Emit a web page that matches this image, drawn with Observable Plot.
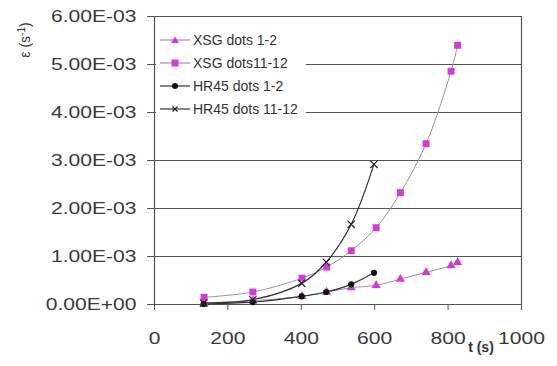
<!DOCTYPE html>
<html><head><meta charset="utf-8">
<script src="https://cdn.jsdelivr.net/npm/d3@7"></script>
<script src="https://cdn.jsdelivr.net/npm/@observablehq/plot@0.6"></script>
<style>
body{margin:0;background:#fff;font-family:"Liberation Sans",Arial,sans-serif;}
#wrap{position:relative;width:557px;height:366px;}
#legend{position:absolute;left:156px;top:28px;width:150px;height:93px;background:#fff;}
.row{position:absolute;left:0;height:16px;display:flex;align-items:center;font-size:14px;color:#333;white-space:nowrap;}
.row svg{margin-right:3px;}
</style>
</head><body>
<div id="wrap"><div id="legend"></div></div>
<script>
// Data (values in s^-1)
const tXSG = [135, 268, 402, 469, 536, 604, 670, 740, 808, 826];
const xsg12 = [0.03e-3, 0.08e-3, 0.17e-3, 0.26e-3, 0.35e-3, 0.40e-3, 0.53e-3, 0.67e-3, 0.81e-3, 0.88e-3];
const xsg1112 = [0.15e-3, 0.26e-3, 0.55e-3, 0.78e-3, 1.12e-3, 1.60e-3, 2.33e-3, 3.35e-3, 4.86e-3, 5.40e-3];
const tHR = [134, 268, 401, 468, 536, 598];
const hr12 = [0.01e-3, 0.05e-3, 0.17e-3, 0.26e-3, 0.42e-3, 0.66e-3];
const hr1112 = [0.03e-3, 0.10e-3, 0.44e-3, 0.88e-3, 1.67e-3, 2.92e-3];
const xTicks = [0, 200, 400, 600, 800, 1000];
const yTicks = [0, 0.001, 0.002, 0.003, 0.004, 0.005, 0.006];
const seriesNames = ["XSG dots 1-2", "XSG dots11-12", "HR45 dots 1-2", "HR45 dots 11-12"];

const MAG = "#d23cd2";
const toRows = (ts, vs) => ts.map((t, i) => ({t, v: vs[i]}));
const dA = toRows(tXSG, xsg12), dB = toRows(tXSG, xsg1112), dC = toRows(tHR, hr12), dD = toRows(tHR, hr1112);

function fmt(d){
  const [m, e] = d.toExponential(2).split("e");
  const n = +e;
  return m + "E" + (n < 0 ? "-" : "+") + String(Math.abs(n)).padStart(2, "0");
}

const plot = Plot.plot({
  width: 557, height: 366,
  marginLeft: 154, marginRight: 36, marginTop: 16, marginBottom: 62,
  style: {fontFamily: '"Liberation Sans", Arial, sans-serif', fontSize: "17px", color: "#3a3a3a", background: "white"},
  x: {domain: [0, 1000]},
  y: {domain: [0, 0.006]},
  marks: [
    Plot.ruleY(yTicks, {stroke: "#555", strokeWidth: 1.2, strokeOpacity: 1}),
    Plot.ruleX([0, 1000], {stroke: "#555", strokeWidth: 1.2}),
    Plot.line(dA, {x: "t", y: "v", stroke: "#a08fa8", strokeWidth: 1, curve: "catmull-rom"}),
    Plot.line(dB, {x: "t", y: "v", stroke: "#a08fa8", strokeWidth: 1, curve: "catmull-rom"}),
    Plot.line(dC, {x: "t", y: "v", stroke: "#333", strokeWidth: 1.2, curve: "catmull-rom"}),
    Plot.line(dD, {x: "t", y: "v", stroke: "#333", strokeWidth: 1.2, curve: "catmull-rom"}),
    Plot.dot(dA, {x: "t", y: "v", symbol: "triangle", r: 3.4, fill: MAG, stroke: "none"}),
    Plot.dot(dB, {x: "t", y: "v", symbol: "square", r: 3.9, fill: MAG, stroke: "none"}),
    Plot.dot(dC, {x: "t", y: "v", symbol: "circle", r: 3.1, fill: "#111", stroke: "none"}),
    Plot.dot(dD, {x: "t", y: "v", symbol: "times", r: 3.4, stroke: "#222", strokeWidth: 1.2}),
    Plot.axisX({ticks: xTicks, tickFormat: d => String(d), tickSize: 6, tickPadding: 21, label: null, stroke: "#555"}),
    Plot.axisY({ticks: yTicks, tickFormat: fmt, tickSize: 7, tickPadding: 11, label: null, stroke: "#555"})
  ]
});
const wrap = document.getElementById("wrap");
wrap.insertBefore(plot, wrap.firstChild);

// stretch tick labels horizontally to match reference proportions
d3.select(plot).selectAll('g[aria-label="x-axis tick label"] text, g[aria-label="y-axis tick label"] text').each(function(){
  const L = this.getComputedTextLength();
  this.setAttribute("textLength", (L * 1.24).toFixed(1));
  this.setAttribute("lengthAdjust", "spacingAndGlyphs");
});

const svg = d3.select(plot);
// y axis title
const yt = svg.append("text")
  .attr("transform", "translate(30,40) rotate(-90)")
  .attr("text-anchor", "middle")
  .attr("font-size", 14).attr("fill", "#333")
  .attr("font-family", '"Liberation Sans", Arial, sans-serif');
yt.append("tspan").text("ε (s");
yt.append("tspan").attr("font-size", 10).attr("dy", -5).text("-1");
yt.append("tspan").attr("dy", 5).text(")");
// x axis title
svg.append("text").attr("x", 481).attr("y", 352).attr("text-anchor", "middle")
  .attr("font-size", 14).attr("font-weight", "bold").attr("fill", "#333")
  .attr("font-family", '"Liberation Sans", Arial, sans-serif').text("t (s)");

// legend
const legend = document.getElementById("legend");
const specs = [
  {line: "#a08fa8", mark: `<path d="M19,3.5 L23,10 L15,10 Z" fill="${MAG}"/>`},
  {line: "#a08fa8", mark: `<rect x="15.5" y="3.5" width="7" height="7" fill="${MAG}"/>`},
  {line: "#333", mark: `<circle cx="19" cy="7" r="3" fill="#111"/>`},
  {line: "#333", mark: `<path d="M16.5,4.5 L21.5,9.5 M21.5,4.5 L16.5,9.5" stroke="#222" stroke-width="1.2"/>`}
];
seriesNames.forEach((name, i) => {
  const row = document.createElement("div");
  row.className = "row";
  row.style.top = (4 + i * 23) + "px";
  row.innerHTML = `<svg width="34" height="14"><line x1="4" y1="7" x2="34" y2="7" stroke="${specs[i].line}" stroke-width="1.2"/>${specs[i].mark}</svg><span>${name}</span>`;
  legend.appendChild(row);
});
</script>
</body></html>
